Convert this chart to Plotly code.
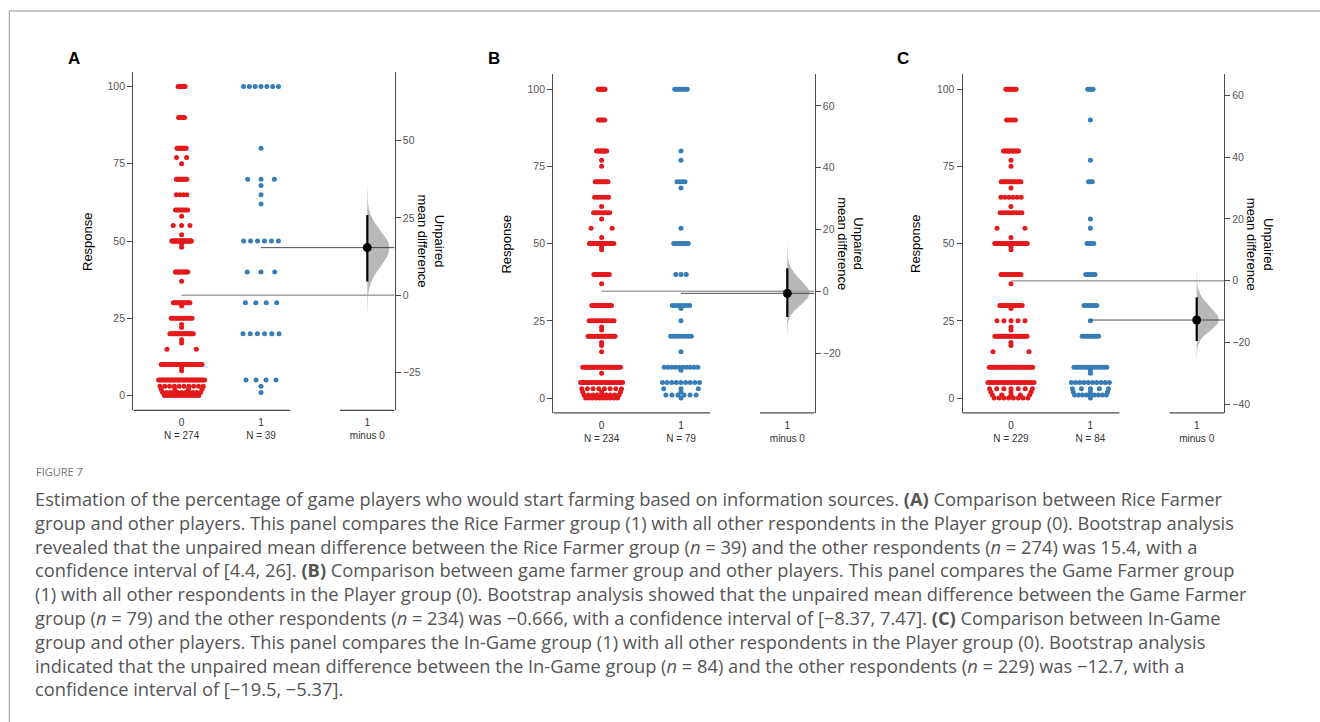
import numpy as np
import plotly.graph_objects as go

# ---------------- data ----------------
a0_values = [100, 90, 80, 77, 75, 70, 65, 60, 58, 55, 52, 50, 49, 48, 40, 37, 30, 29, 25, 23, 22, 20, 18, 17, 15, 10, 9, 8, 5, 3, 2, 1, 0]
a0_counts = [13, 6, 12, 2, 1, 12, 4, 8, 1, 3, 1, 30, 1, 1, 12, 1, 15, 1, 12, 1, 1, 20, 1, 1, 2, 36, 1, 1, 36, 10, 4, 11, 13]
a1_values = [100, 80, 70, 68, 65, 62, 50, 40, 30, 20, 5, 3, 1]
a1_counts = [7, 1, 3, 1, 1, 1, 6, 3, 4, 6, 4, 1, 1]

b0_values = [100, 90, 80, 77, 75, 70, 65, 62, 60, 58, 55, 52, 50, 49, 48, 40, 37, 30, 25, 23, 22, 20, 18, 17, 15, 10, 8, 5, 3, 2, 1, 0]
b0_counts = [10, 5, 11, 1, 1, 10, 6, 1, 8, 1, 2, 1, 30, 1, 1, 12, 1, 14, 12, 1, 1, 20, 1, 1, 1, 26, 1, 24, 8, 3, 9, 10]
b1_values = [100, 80, 77, 70, 68, 55, 50, 40, 30, 29, 25, 20, 15, 10, 9, 5, 3, 2, 1, 0]
b1_counts = [9, 1, 1, 4, 1, 1, 9, 3, 8, 1, 1, 8, 1, 10, 1, 9, 3, 1, 6, 1]

c0_values = [100, 90, 80, 77, 75, 70, 68, 65, 62, 60, 55, 52, 50, 49, 48, 40, 37, 30, 29, 25, 23, 22, 20, 18, 17, 15, 10, 5, 3, 2, 1, 0]
c0_counts = [12, 5, 13, 1, 1, 13, 1, 6, 1, 9, 2, 1, 32, 1, 1, 12, 1, 14, 1, 5, 1, 1, 22, 1, 1, 2, 24, 22, 7, 3, 5, 8]
c1_values = [100, 90, 77, 70, 58, 55, 50, 40, 30, 25, 20, 10, 9, 8, 5, 3, 2, 1, 0]
c1_counts = [5, 1, 1, 3, 1, 1, 4, 6, 8, 1, 9, 14, 1, 1, 10, 5, 3, 9, 1]

panel_letters = ["A", "B", "C"]
group_labels = ["0", "1"]
contrast_label = "1<br>minus 0"
mean_diff = [15.4, -0.666, -12.7]
ci_low = [4.4, -8.37, -19.5]
ci_high = [26.0, 7.47, -5.37]
violin_top = [36.3, 15.9, 3.9]
violin_bottom = [-7.4, -14.9, -25.8]
violin_frac = [0.0, 0.1, 0.2, 0.3, 0.4, 0.5, 0.6, 0.7, 0.8, 0.9, 1.0]
violin_width = [1.0, 0.93, 0.75, 0.52, 0.31, 0.16, 0.07, 0.027, 0.008, 0.002, 0.0]
left_ticks = [0, 25, 50, 75, 100]
right_ticks = [[-25, 0, 25, 50], [-20, 0, 20, 40, 60], [-40, -20, 0, 20, 40, 60]]

caption_title = "FIGURE 7"
caption_lines = [
    "Estimation of the percentage of game players who would start farming based on information sources. <b>(A)</b> Comparison between Rice Farmer",
    "group and other players. This panel compares the Rice Farmer group (1) with all other respondents in the Player group (0). Bootstrap analysis",
    "revealed that the unpaired mean difference between the Rice Farmer group (<i>n</i> = 39) and the other respondents (<i>n</i> = 274) was 15.4, with a",
    "confidence interval of [4.4, 26]. <b>(B)</b> Comparison between game farmer group and other players. This panel compares the Game Farmer group",
    "(1) with all other respondents in the Player group (0). Bootstrap analysis showed that the unpaired mean difference between the Game Farmer",
    "group (<i>n</i> = 79) and the other respondents (<i>n</i> = 234) was \u22120.666, with a confidence interval of [\u22128.37, 7.47]. <b>(C)</b> Comparison between In-Game",
    "group and other players. This panel compares the In-Game group (1) with all other respondents in the Player group (0). Bootstrap analysis",
    "indicated that the unpaired mean difference between the In-Game group (<i>n</i> = 84) and the other respondents (<i>n</i> = 229) was \u221212.7, with a",
    "confidence interval of [\u221219.5, \u22125.37].",
]

# ---------------- layout constants ----------------
W, H = 1320, 722
RED, BLUE = "#E41A1C", "#377EB8"
AX = "#4a4a4a"
TICKC = "#555555"
FONT = "Liberation Sans, Arial, sans-serif"
panel_left = [133.3, 553.3, 962.7]
panel_top = [71.7, 74.3, 74.3]
panel_w, panel_h = 261.3, 338.6
g0_off, unit_px, eff_off = 48.3, 79.4, 234.0
raw_end, con_start = 156.7, 206.7
y_range = [-4.8, 104.8]
# max centre-to-centre spread (px) of the densest row for each group
max_span = [[46.0, 36.0], [42.0, 37.0], [46.0, 38.0]]
kde_bw = 6.0
xr = [-g0_off / unit_px, (panel_w - g0_off) / unit_px]
xd = (eff_off - g0_off) / unit_px


def density_strip(vals, cnts, span):
    """Row offsets: each row spread in proportion to the data's kernel density at that value."""
    v = np.array(vals, float)
    c = np.array(cnts, float)
    dens = np.array([np.sum(c * np.exp(-0.5 * ((u - v) / kde_bw) ** 2)) for u in v])
    widths = span * dens / dens.max()
    xs, ys = [], []
    for u, n, w in zip(vals, cnts, widths):
        if n == 1:
            offs = [0.0]
        else:
            offs = list(np.linspace(-w / 2, w / 2, n))
        xs += [o / unit_px for o in offs]
        ys += [u] * n
    return np.array(xs), ys


groups = [
    ((a0_values, a0_counts), (a1_values, a1_counts)),
    ((b0_values, b0_counts), (b1_values, b1_counts)),
    ((c0_values, c0_counts), (c1_values, c1_counts)),
]

fig = go.Figure()
shapes, annotations = [], []
layout = {}

for i, (gr0, gr1) in enumerate(groups):
    xa = "x" if i == 0 else f"x{i+1}"
    yl = "y" if i == 0 else f"y{2*i+1}"
    yr = f"y{2*i+2}"
    n0, n1 = sum(gr0[1]), sum(gr1[1])
    m0 = float(np.dot(gr0[0], gr0[1]) / n0)
    d = mean_diff[i]

    # half violin of the bootstrap distribution
    vy = [d + f * (violin_top[i] - d) for f in violin_frac][::-1] + [d + f * (violin_bottom[i] - d) for f in violin_frac][1:]
    vw = violin_width[::-1] + violin_width[1:]
    vx = [xd + w * 22.3 / unit_px for w in vw]
    fig.add_trace(go.Scatter(x=vx + [xd, xd], y=vy + [violin_bottom[i], violin_top[i]], xaxis=xa, yaxis=yr,
                             mode="lines", fill="toself", fillcolor="#b8b8b8", line=dict(width=0),
                             hoverinfo="skip", showlegend=False))

    # swarms
    for k, (gr, col) in enumerate([(gr0, RED), (gr1, BLUE)]):
        xs, ys = density_strip(gr[0], gr[1], max_span[i][k])
        fig.add_trace(go.Scatter(x=xs + k, y=ys, xaxis=xa, yaxis=yl, mode="markers",
                                 marker=dict(color=col, size=5, line=dict(width=0)), showlegend=False))

    # reference lines
    fig.add_trace(go.Scatter(x=[0, xr[1]], y=[0, 0], xaxis=xa, yaxis=yr, mode="lines",
                             line=dict(color="#a3a3a3", width=1.6), showlegend=False, hoverinfo="skip"))
    fig.add_trace(go.Scatter(x=[1, xr[1]], y=[d, d], xaxis=xa, yaxis=yr, mode="lines",
                             line=dict(color="#3a3a3a", width=0.9), showlegend=False, hoverinfo="skip"))
    # CI + point estimate
    fig.add_trace(go.Scatter(x=[xd, xd], y=[ci_low[i], ci_high[i]], xaxis=xa, yaxis=yr, mode="lines",
                             line=dict(color="black", width=2.2), showlegend=False))
    fig.add_trace(go.Scatter(x=[xd], y=[d], xaxis=xa, yaxis=yr, mode="markers",
                             marker=dict(color="black", size=9), showlegend=False))

    L, T = panel_left[i], panel_top[i]
    xdom = [L / W, (L + panel_w) / W]
    ydom = [1 - (T + panel_h) / H, 1 - T / H]
    axkey = "xaxis" if i == 0 else f"xaxis{i+1}"
    ylkey = "yaxis" if i == 0 else f"yaxis{2*i+1}"
    yrkey = f"yaxis{2*i+2}"
    layout[axkey] = dict(domain=xdom, anchor=yl, range=xr, showline=False, showgrid=False, zeroline=False,
                         ticks="outside", ticklen=3, tickcolor="rgba(0,0,0,0)", tickvals=[0, 1, xd],
                         ticktext=[f"{group_labels[0]}<br>N = {n0}", f"{group_labels[1]}<br>N = {n1}", contrast_label],
                         tickfont=dict(size=10, color="#333333", family=FONT), fixedrange=True)
    common = dict(showline=True, linecolor=AX, linewidth=1.3, ticks="outside", ticklen=5, tickwidth=1.1,
                  tickcolor=AX, showgrid=False, zeroline=False, tickfont=dict(size=10.5, color=TICKC, family=FONT),
                  fixedrange=True)
    layout[ylkey] = dict(domain=ydom, anchor=xa, range=y_range, tickvals=left_ticks, side="left", **common)
    layout[yrkey] = dict(overlaying=yl, anchor=xa, side="right", range=[y_range[0] - m0, y_range[1] - m0],
                         tickvals=right_ticks[i], **common)

    # bottom spines (raw + contrast parts)
    for x0, x1 in [(xr[0], xr[0] + raw_end / unit_px), (xr[0] + con_start / unit_px, xr[1])]:
        shapes.append(dict(type="line", xref=xa, yref=f"{yl} domain", x0=x0, x1=x1, y0=0, y1=0,
                           line=dict(color=AX, width=1.3)))

    # titles
    annotations.append(dict(text="Response", xref="paper", yref="paper", x=(L - 46.5) / W,
                            y=1 - (T + 169.5) / H, showarrow=False, textangle=-90,
                            font=dict(size=13, color="black", family=FONT), xanchor="center", yanchor="middle"))
    annotations.append(dict(text="Unpaired<br>mean difference", xref="paper", yref="paper",
                            x=(L + panel_w + 36) / W, y=1 - (T + 169.5) / H, showarrow=False, textangle=90,
                            font=dict(size=13, color="black", family=FONT), xanchor="center", yanchor="middle"))
    annotations.append(dict(text=f"<b>{panel_letters[i]}</b>", xref="paper", yref="paper",
                            x=(L - 59.5) / W, y=1 - 58.3 / H, showarrow=False,
                            font=dict(size=17, color="black", family=FONT), xanchor="center", yanchor="middle"))

# caption
annotations.append(dict(text=caption_title, xref="paper", yref="paper", x=34 / W, y=1 - 471 / H,
                        showarrow=False, xanchor="left", yanchor="middle",
                        font=dict(size=11, color="#707070", family="Open Sans")))
annotations.append(dict(text="<br>".join(caption_lines), xref="paper", yref="paper", x=33 / W,
                        y=1 - (498 + 23.8 * 4) / H, showarrow=False, xanchor="left", yanchor="middle",
                        align="left", font=dict(size=18.3, color="#555555", family="Open Sans")))

# frame
shapes.append(dict(type="line", xref="paper", yref="paper", x0=9 / W, x1=1, y0=1 - 11 / H, y1=1 - 11 / H,
                   line=dict(color="#b5b5b5", width=1.6)))
shapes.append(dict(type="line", xref="paper", yref="paper", x0=9.3 / W, x1=9.3 / W, y0=0, y1=1 - 11 / H,
                   line=dict(color="#a8a8a8", width=1.2)))

fig.update_layout(width=W, height=H, margin=dict(l=0, r=0, t=0, b=0), paper_bgcolor="white",
                  plot_bgcolor="white", showlegend=False, shapes=shapes, annotations=annotations,
                  font=dict(family=FONT), **layout)
fig.write_html("out.html", config={"displayModeBar": False},
               post_script="document.body.style.margin='0';document.body.style.overflow='hidden';")
